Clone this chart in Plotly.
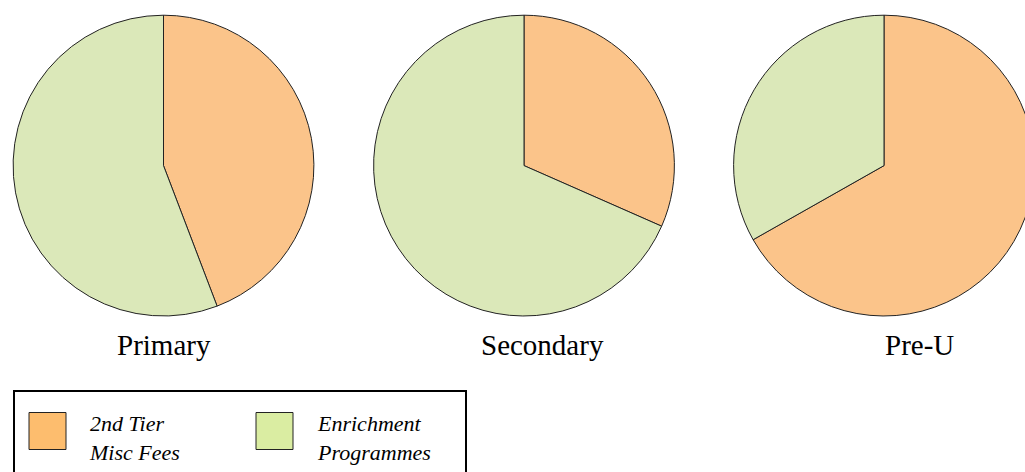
import plotly.graph_objects as go

# ---- data ----
levels = ["Primary", "Secondary", "Pre-U"]
categories = ["2nd Tier Misc Fees", "Enrichment Programmes"]
legend_labels = ["2nd Tier<br>Misc Fees", "Enrichment<br>Programmes"]
misc_fees = [44.2, 31.6, 66.8]
enrichment = [55.8, 68.4, 33.2]

pie_colors = ["#FBC48A", "#DBE8B9"]
legend_colors = ["#FDBD6E", "#DAEDA2"]

W, H = 1045, 472


def px(x):
    return x / W


def py(y):
    return (H - y) / H


pie_centers = [163.5, 524, 884]
pie_cy, pie_r = 165.6, 150.4
label_centers = [164.2, 542.5, 919]

fig = go.Figure()
for i, lvl in enumerate(levels):
    cx = pie_centers[i]
    fig.add_trace(go.Pie(
        labels=categories,
        values=[misc_fees[i], enrichment[i]],
        sort=False,
        direction="clockwise",
        rotation=0,
        textinfo="none",
        hoverinfo="label+value",
        marker=dict(colors=pie_colors, line=dict(color="#222222", width=1)),
        domain=dict(x=[px(cx - pie_r), px(cx + pie_r)],
                    y=[py(pie_cy + pie_r), py(pie_cy - pie_r)]),
        showlegend=False,
        name=lvl,
    ))
    fig.add_annotation(
        x=px(label_centers[i]), y=py(345), xref="paper", yref="paper",
        text=lvl, showarrow=False, xanchor="center", yanchor="middle",
        font=dict(family="Liberation Serif", size=29, color="#000000"),
    )

# legend (drawn manually to match large swatches)
shapes = [dict(type="rect", xref="paper", yref="paper",
               x0=px(14), x1=px(466), y0=py(520), y1=py(391),
               line=dict(color="#000000", width=2), fillcolor="rgba(0,0,0,0)")]
sw_x = [29, 256]
tx_x = [87, 315]
for j in range(len(categories)):
    shapes.append(dict(type="rect", xref="paper", yref="paper",
                       x0=px(sw_x[j]), x1=px(sw_x[j] + 37),
                       y0=py(449.5), y1=py(412.5),
                       line=dict(color="#222222", width=1),
                       fillcolor=legend_colors[j]))
    fig.add_annotation(
        x=px(tx_x[j]), y=py(438), xref="paper", yref="paper",
        text="<i>" + legend_labels[j] + "</i>", showarrow=False,
        xanchor="left", yanchor="middle", align="left",
        font=dict(family="Liberation Serif", size=22, color="#000000"),
    )

fig.update_layout(
    width=W, height=H, autosize=False,
    margin=dict(l=0, r=0, t=0, b=0),
    paper_bgcolor="#ffffff", plot_bgcolor="#ffffff",
    shapes=shapes,
)

fig.write_html("out.html", config={"displayModeBar": False},
               post_script="document.body.style.margin='0';document.body.style.overflow='hidden';"
                           "document.documentElement.style.overflow='hidden';")
